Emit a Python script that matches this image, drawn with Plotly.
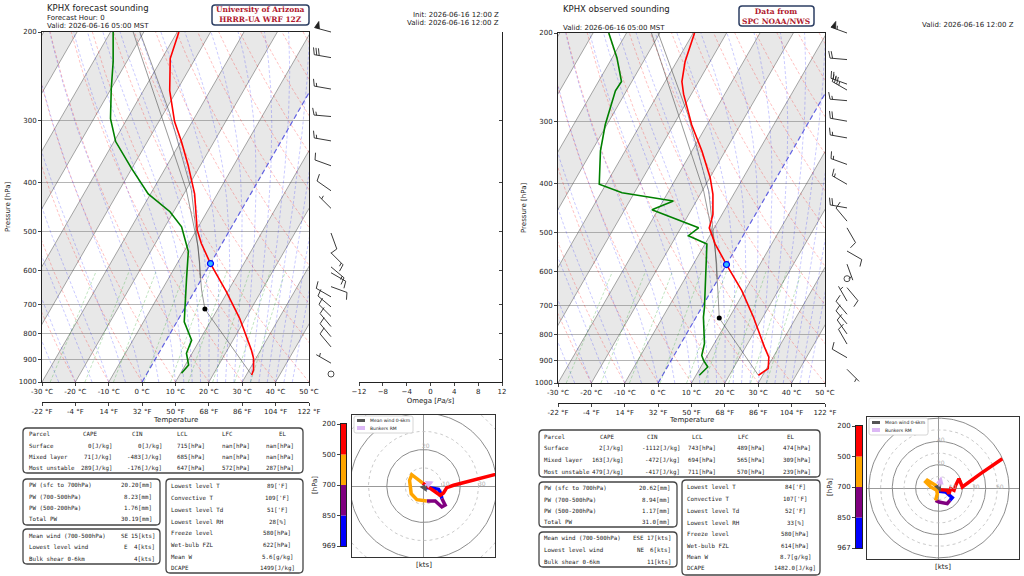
import numpy as np
import plotly.graph_objects as go

W, H = 1024, 576
SKEW = 37.6  # x shift (degC) per ln(1000/p), gives the skew of the isotherms

# ---------------- forecast sounding (left) ----------------
FC_T_P = [968, 946, 897, 863, 746, 660, 580, 529, 497, 457, 421, 369, 331, 302, 262, 226, 200]
FC_T = [31.6, 31.3, 29.3, 27.2, 18.2, 9.6, 0.0, -6.2, -9.8, -13.4, -16.8, -23.7, -29.8, -35.3, -42.1, -47.5, -49.5]
FC_TD_P = [961, 925, 876, 825, 758, 702, 621, 549, 490, 457, 421, 374, 331, 298, 260, 229, 200]
FC_TD = [10.3, 11.0, 8.3, 7.6, 2.2, -0.5, -4.6, -8.7, -15.0, -21.1, -30.7, -40.2, -49.5, -55.0, -59.9, -64.1, -69.2]
FC_PARCEL_P = [968, 715, 655, 537, 414, 300, 200]
FC_PARCEL_T = [31.6, 6.2, 1.9, -6.6, -19.9, -39.0, -63.2]
FC_PARCEL2_P = [620, 579, 414, 291, 200]
FC_PARCEL2_T = [-0.6, -3.3, -18.4, -38.1, -61.2]
FC_LCL = (715, 6.2)
FC_FRZ = (580, 0.0)

FC_BARB_P = [200, 225, 260, 295, 330, 370, 415, 450, 504, 552, 589, 605, 645, 676, 708, 740, 775, 812, 851, 917, 964]
FC_BARB_DIR = [285, 280, 280, 275, 280, 290, 305, 315, 160, 135, 130, 120, 110, 300, 310, 315, 320, 320, 320, 300, 0]
FC_BARB_SPD = [50, 30, 15, 15, 15, 10, 10, 5, 10, 15, 15, 10, 10, 10, 10, 10, 10, 10, 10, 5, 0]

FC_HODO_P = [969, 950, 920, 890, 850, 810, 780, 740, 700, 660, 620, 580, 550, 520, 500, 450, 400, 370, 340, 300, 260, 220, 200]
FC_HODO_U = [0.9, 3.6, 8.2, 9.5, 10.0, 11.8, 10.0, 6.4, 1.8, -3.6, -6.7, -7.6, -6.4, -3.6, -0.4, 4.5, 9.1, 10.9, 12.7, 16.4, 23.6, 32.7, 47.3]
FC_HODO_V = [-0.9, -0.9, -1.8, -4.2, -6.9, -10.5, -11.5, -8.2, -8.2, -7.5, -4.2, 3.1, 6.2, 4.0, 1.6, -2.0, -5.1, -3.8, -0.9, 0.4, 2.2, 4.0, 8.5]
FC_MEAN_WIND = (1.8, -3.3)
FC_BUNKERS = (5.5, 2.5)
FC_CB_LEVELS = ['969', '850', '700', '500', '200']

# ---------------- observed sounding (right) ----------------
OB_T_P = [965, 936, 888, 847, 739, 654, 580, 528, 490, 461, 420, 389, 344, 305, 265, 250, 228, 200]
OB_T = [28.7, 30.5, 28.7, 25.6, 17.2, 9.1, 0.0, -6.9, -11.5, -12.7, -16.2, -19.9, -27.0, -34.6, -42.3, -45.0, -47.5, -49.6]
OB_TD_P = [965, 929, 901, 881, 835, 739, 706, 615, 528, 508, 500, 490, 451, 433, 417, 401, 344, 305, 261, 250, 224, 200]
OB_TD = [11.0, 12.1, 9.7, 8.3, 7.1, 2.2, 0.8, -4.0, -9.4, -16.4, -15.5, -14.7, -31.8, -26.9, -43.7, -52.0, -57.4, -60.5, -63.3, -63.1, -68.6, -75.3]
OB_PARCEL_P = [965, 742, 655, 537, 414, 300, 200]
OB_PARCEL_T = [28.7, 7.1, 2.0, -6.3, -19.5, -38.5, -62.5]
OB_PARCEL2_P = [620, 579, 414, 291, 200]
OB_PARCEL2_T = [-0.3, -3.0, -18.0, -37.5, -60.5]
OB_LCL = (742, 7.1)
OB_FRZ = (580, 0.0)

OB_BARB_P = [200, 226, 253, 260, 273, 300, 324, 366, 401, 447, 475, 490, 545, 579, 619, 645, 686, 729, 762, 798, 836, 890, 939]
OB_BARB_DIR = [290, 275, 290, 300, 275, 280, 280, 290, 300, 280, 320, 150, 120, 160, 0, 140, 330, 320, 320, 325, 330, 300, 135]
OB_BARB_SPD = [55, 20, 25, 35, 15, 20, 15, 15, 15, 20, 10, 10, 10, 5, 0, 10, 5, 10, 10, 10, 10, 10, 5]

OB_HODO_P = [967, 930, 890, 850, 800, 750, 700, 670, 640, 610, 580, 550, 520, 500, 470, 440, 410, 380, 350, 320, 290, 250, 200]
OB_HODO_U = [0.0, 5.7, 11.4, 9.4, 7.1, 0.0, -2.9, -1.4, -2.0, -7.1, -11.4, -10.0, -2.9, 0.0, 7.1, 8.6, 10.0, 12.9, 14.3, 17.1, 20.0, 35.7, 54.3]
OB_HODO_V = [-2.9, -3.4, -8.3, -10.6, -13.4, -12.0, -10.6, -4.9, -2.0, 0.9, 5.1, 6.6, 2.3, -1.4, -2.0, -4.9, -0.6, -2.0, 2.3, 8.0, 0.9, 12.3, 25.1]
OB_MEAN_WIND = (1.4, -3.5)
OB_BUNKERS = (2.0, 10.0)
OB_CB_LEVELS = ['967', '850', '700', '500', '200']

# ---------------- table contents ----------------
PARCEL_NAMES = ['Surface', 'Mixed layer', 'Most unstable']
PARCEL_HEAD = ['CAPE', 'CIN', 'LCL', 'LFC', 'EL']
PW_NAMES = ['PW (sfc to 700hPa)', 'PW (700-500hPa)', 'PW (500-200hPa)', 'Total PW']
WIND_NAMES = ['Mean wind (700-500hPa)', 'Lowest level wind', 'Bulk shear 0-6km']
INDEX_NAMES = ['Lowest level T', 'Convective T', 'Lowest level Td', 'Lowest level RH',
               'Freeze level', 'Wet-bulb FZL', 'Mean W', 'DCAPE']

FC_CAPE = [0, 71, 289]
FC_CIN = [0, -483, -176]
FC_LCLS = [715, 685, 647]
FC_LFC = ['nan', 'nan', 572]
FC_EL = ['nan', 'nan', 287]
FC_PW = ['20.20', '8.23', '1.76', '30.19']
FC_WIND_DIR = ['SE', 'E', '']
FC_WIND_SPD = [15, 4, 4]
FC_INDEX = ["89['F]", "109['F]", "51['F]", "28[%]", "580[hPa]", "622[hPa]", "5.6[g/kg]", "1499[J/kg]"]

OB_CAPE = [2, 163, 479]
OB_CIN = [-1112, -472, -417]
OB_LCLS = [743, 694, 711]
OB_LFC = [489, 565, 570]
OB_EL = [474, 309, 239]
OB_PW = ['20.62', '8.94', '1.17', '31.0']
OB_WIND_DIR = ['ESE', 'NE', '']
OB_WIND_SPD = [17, 6, 11]
OB_INDEX = ["84['F]", "107['F]", "52['F]", "33[%]", "580[hPa]", "614[hPa]", "8.7[g/kg]", "1482.0[J/kg]"]

# ---------------- chart furniture ----------------
T_TICKS = list(range(-30, 51, 10))
P_TICKS = [1000, 900, 800, 700, 600, 500, 400, 300, 200]
ISOTHERMS = list(range(-110, 51, 10))
BAND_STARTS = list(range(-110, 31, 20))
DRY_T0 = list(range(-40, 201, 10))
MOIST_T0 = list(range(-50, 11, 5)) + list(np.arange(12.5, 45.1, 2.5))
MIX_RATIOS = [0.0004, 0.001, 0.002, 0.004, 0.007, 0.01, 0.016, 0.024, 0.032]
RINGS = [10, 20, 30, 40, 50, 60]
OMEGA_TICKS = [-12, -8, -4, 0, 4, 8, 12]
HODO_COLORS = ['blue', 'purple', 'orange', 'red']

P_BG = np.geomspace(1000, 200, 90)
P_MIX = np.linspace(1000, 600, 20)
FONT = 'DejaVu Sans'
MONO = 'DejaVu Sans Mono'


def X(px):
    return px / W


def Y(py):
    return 1 - py / H


def skew_x(t, p):
    return np.asarray(t, float) + SKEW * np.log(1000.0 / np.asarray(p, float))


def moist_adiabat(t0):
    Rd, Cp, Lv, eps = 287.04, 1005.7, 2.501e6, 0.622

    def grad(T, p):
        tc = T - 273.15
        es = 6.112 * np.exp(17.67 * tc / (tc + 243.5))
        rs = eps * es / (p - es)
        return (Rd * T + Lv * rs) / (Cp + Lv * Lv * rs * eps / (Rd * T * T)) / p

    T = t0 + 273.15
    out = [T]
    for p0, p1 in zip(P_BG[:-1], P_BG[1:]):
        k1 = grad(T, p0)
        k2 = grad(T + k1 * (p1 - p0), p1)
        T = T + 0.5 * (k1 + k2) * (p1 - p0)
        out.append(T)
    return np.array(out) - 273.15


def joined(curves):
    xs, ys = [], []
    for x, y in curves:
        xs += list(x) + [None]
        ys += list(y) + [None]
    return xs, ys


fig = go.Figure()


def lines(x, y, xa, ya, color, width=1.0, dash='solid', **kw):
    fig.add_trace(go.Scatter(x=x, y=y, xaxis=xa, yaxis=ya, mode='lines',
                             line=dict(color=color, width=width, dash=dash),
                             hoverinfo='skip', showlegend=False, **kw))


def add_background(xa, ya):
    bx, by = [], []
    for t0 in BAND_STARTS:
        bx += list(skew_x([t0, t0 + 10, t0 + 10, t0], [1000, 1000, 200, 200])) + [None]
        by += [1000, 1000, 200, 200, None]
    lines(bx, by, xa, ya, 'rgba(0,0,0,0)', 0, fill='toself', fillcolor='rgba(140,140,140,0.2)')
    iso = [(skew_x([t, t], [1000, 200]), [1000, 200]) for t in ISOTHERMS if t != 0]
    lines(*joined(iso), xa, ya, 'rgba(80,80,80,0.55)', 0.9)
    dry = [(skew_x((th + 273.15) * (P_BG / 1000) ** 0.2857 - 273.15, P_BG), P_BG) for th in DRY_T0]
    lines(*joined(dry), xa, ya, 'rgba(255,0,0,0.35)', 0.7, '3px,2px')
    moist = [(skew_x(moist_adiabat(t0), P_BG), P_BG) for t0 in MOIST_T0]
    lines(*joined(moist), xa, ya, 'rgba(0,0,255,0.3)', 0.7, '3px,2px')
    mix = []
    for w in MIX_RATIOS:
        e = P_MIX * w / (0.622 + w)
        a = np.log(e / 6.112)
        mix.append((skew_x(243.5 * a / (17.67 - a), P_MIX), P_MIX))
    lines(*joined(mix), xa, ya, 'rgba(0,150,0,0.35)', 0.7, '3px,2px')
    lines(skew_x([0, 0], [1000, 200]), [1000, 200], xa, ya, 'rgba(50,50,220,0.75)', 1.2, '5px,3px')


def add_profiles(xa, ya, tp, t, tdp, td, pp, pt, pp2, pt2, lcl, frz):
    lines(skew_x(pt, pp), pp, xa, ya, 'rgba(70,70,70,0.7)', 0.8)
    lines(skew_x(pt2, pp2), pp2, xa, ya, 'rgba(70,70,70,0.7)', 0.8)
    lines(skew_x(t, tp), tp, xa, ya, 'red', 1.6)
    lines(skew_x(td, tdp), tdp, xa, ya, 'green', 1.6)
    fig.add_trace(go.Scatter(x=skew_x([lcl[1]], [lcl[0]]), y=[lcl[0]], xaxis=xa, yaxis=ya, mode='markers',
                             marker=dict(color='black', size=5), hoverinfo='skip', showlegend=False))
    fig.add_trace(go.Scatter(x=skew_x([frz[1]], [frz[0]]), y=[frz[0]], xaxis=xa, yaxis=ya, mode='markers',
                             marker=dict(color='#33bbff', size=6, line=dict(color='blue', width=1.2)),
                             hoverinfo='skip', showlegend=False))


def barb_y(p):
    return 350 * np.log(1000.0 / p) / np.log(5)


def add_barbs(xa, ya, plist, dlist, slist, x0=21.0, length=17.0, feather=7.0, gap=2.5):
    lx, ly, fx, fy, cx, cy = [], [], [], [], [], []
    for p, d, s in zip(plist, dlist, slist):
        y0 = barb_y(p)
        if s < 2.5:
            cx.append(x0)
            cy.append(y0)
            continue
        a = np.radians(d)
        ux, uy = np.sin(a), np.cos(a)
        nx, ny = uy, -ux
        lx += [x0, x0 + ux * length, None]
        ly += [y0, y0 + uy * length, None]
        s5 = int(5 * round(s / 5))
        n50, r = divmod(s5, 50)
        n10, r = divmod(r, 10)
        n5 = r // 5
        pos = length
        for _ in range(n50):
            fx += [x0 + ux * pos, x0 + ux * (pos - gap) + nx * feather, x0 + ux * (pos - 2 * gap), None]
            fy += [y0 + uy * pos, y0 + uy * (pos - gap) + ny * feather, y0 + uy * (pos - 2 * gap), None]
            pos -= 2.6 * gap
        for _ in range(n10):
            bx, by = x0 + ux * pos, y0 + uy * pos
            lx += [bx, bx + nx * feather + ux * gap * 0.8, None]
            ly += [by, by + ny * feather + uy * gap * 0.8, None]
            pos -= gap
        if n5:
            if n50 + n10 == 0:
                pos -= 1.5 * gap
            bx, by = x0 + ux * pos, y0 + uy * pos
            lx += [bx, bx + 0.5 * (nx * feather + ux * gap * 0.8), None]
            ly += [by, by + 0.5 * (ny * feather + uy * gap * 0.8), None]
    lines(lx, ly, xa, ya, '#222', 0.9)
    if fx:
        lines(fx, fy, xa, ya, '#222', 0.8, fill='toself', fillcolor='#222')
    if cx:
        fig.add_trace(go.Scatter(x=cx, y=cy, xaxis=xa, yaxis=ya, mode='markers', hoverinfo='skip', showlegend=False,
                                 marker=dict(symbol='circle-open', size=6, color='#222', line=dict(width=0.8))))


def add_hodograph(xa, ya, hp, hu, hv):
    th = np.linspace(0, 2 * np.pi, 181)
    for r in RINGS:
        solid = r % 20 == 0
        lines(r * np.cos(th), r * np.sin(th), xa, ya, '#8c8c8c' if solid else '#bdbdbd',
              1.0 if solid else 0.8, 'solid' if solid else 'dot')
    hp, hu, hv = np.array(hp), np.array(hu), np.array(hv)
    bands = [(850, 2000), (700, 850), (500, 700), (0, 500)]
    for (lo, hi), c in zip(bands, HODO_COLORS):
        m = (hp >= lo) & (hp <= hi)
        lines(hu[m], hv[m], xa, ya, c, 3.5)


def rbox(x0, y0, x1, y1, r=4, color='#444', width=1.3, fill='white'):
    path = (f"M {X(x0 + r)},{Y(y0)} L {X(x1 - r)},{Y(y0)} Q {X(x1)},{Y(y0)} {X(x1)},{Y(y0 + r)} "
            f"L {X(x1)},{Y(y1 - r)} Q {X(x1)},{Y(y1)} {X(x1 - r)},{Y(y1)} L {X(x0 + r)},{Y(y1)} "
            f"Q {X(x0)},{Y(y1)} {X(x0)},{Y(y1 - r)} L {X(x0)},{Y(y0 + r)} Q {X(x0)},{Y(y0)} {X(x0 + r)},{Y(y0)} Z")
    return dict(type='path', xref='paper', yref='paper', path=path,
                line=dict(color=color, width=width), fillcolor=fill)


def txt(x, y, s, size=7, anchor='left', family=FONT, color='#222', **kw):
    return dict(x=X(x), y=Y(y), xref='paper', yref='paper', text=s, showarrow=False,
                xanchor=anchor, yanchor='middle', font=dict(family=family, size=size, color=color), **kw)


annotations, shapes = [], []


def add_tables(pos, cape, cin, lcl, lfc, el, pw, wdir, wspd, idx):
    m = dict(family=MONO, size=5.8)
    shapes.append(rbox(*pos['box1']))
    shapes.append(rbox(*pos['pwbox']))
    shapes.append(rbox(*pos['wbox']))
    shapes.append(rbox(*pos['ibox']))
    r1 = pos['rows1']
    annotations.append(txt(pos['lab'], r1[0], 'Parcel', **m))
    for c, h in zip(pos['head'], PARCEL_HEAD):
        annotations.append(txt(c, r1[0], h, anchor='center', **m))
    for i, name in enumerate(PARCEL_NAMES):
        annotations.append(txt(pos['lab'], r1[i + 1], name, **m))
        vals = [f'{cape[i]}[J/kg]', f'{cin[i]}[J/kg]', f'{lcl[i]}[hPa]', f'{lfc[i]}[hPa]', f'{el[i]}[hPa]']
        for xr, v in zip(pos['valr'], vals):
            annotations.append(txt(xr, r1[i + 1], v, anchor='right', **m))
    for y, name, v in zip(pos['pwrows'], PW_NAMES, pw):
        annotations.append(txt(pos['lab'], y, name, **m))
        annotations.append(txt(pos['pwr'], y, f'{v}[mm]', anchor='right', **m))
    for y, name, d, s in zip(pos['wrows'], WIND_NAMES, wdir, wspd):
        annotations.append(txt(pos['lab'], y, name, **m))
        if d:
            annotations.append(txt(pos['wdirr'], y, d, anchor='right', **m))
        annotations.append(txt(pos['wspdr'], y, f'{s}[kts]', anchor='right', **m))
    for y, name, v in zip(pos['irows'], INDEX_NAMES, idx):
        annotations.append(txt(pos['ilab'], y, name, **m))
        annotations.append(txt(pos['ic'], y, v, anchor='center', **m))


# ---------------- build the two panels ----------------
PANELS = [
    dict(sx='x', sy='y', fx='x2', bx='x3', by='y3', hx='x5', hy='y5', cx='x6', cy='y6',
         skew=(42, 309, 32, 382), fpos=402, barb=(310, 356), hodo=(352, 495, 415, 557),
         hlim=([-39, 39], [-39, 39]), cbar=(341, 346, 424, 546),
         data=(FC_T_P, FC_T, FC_TD_P, FC_TD, FC_PARCEL_P, FC_PARCEL_T, FC_PARCEL2_P, FC_PARCEL2_T, FC_LCL, FC_FRZ),
         barbs=(FC_BARB_P, FC_BARB_DIR, FC_BARB_SPD), hododata=(FC_HODO_P, FC_HODO_U, FC_HODO_V),
         mean=FC_MEAN_WIND, bunk=FC_BUNKERS, cb=FC_CB_LEVELS),
    dict(sx='x7', sy='y7', fx='x8', bx='x9', by='y9', hx='x10', hy='y10', cx='x11', cy='y11',
         skew=(558, 825, 33, 383), fpos=403, barb=(826, 872), hodo=(867, 1019, 417, 559),
         hlim=([-61.7, 68.6], [-61, 61]), cbar=(856, 862, 426, 548),
         data=(OB_T_P, OB_T, OB_TD_P, OB_TD, OB_PARCEL_P, OB_PARCEL_T, OB_PARCEL2_P, OB_PARCEL2_T, OB_LCL, OB_FRZ),
         barbs=(OB_BARB_P, OB_BARB_DIR, OB_BARB_SPD), hododata=(OB_HODO_P, OB_HODO_U, OB_HODO_V),
         mean=OB_MEAN_WIND, bunk=OB_BUNKERS, cb=OB_CB_LEVELS),
]


def akey(a):
    return ('xaxis' if a[0] == 'x' else 'yaxis') + a[1:]


tickfont = dict(family=FONT, size=7, color='#222')
layout_axes = {}
plain = dict(showgrid=False, zeroline=False, showticklabels=False, ticks='')

for P in PANELS:
    x0, x1, y0, y1 = P['skew']
    dom_x, dom_y = [X(x0), X(x1)], [Y(y1), Y(y0)]
    add_background(P['sx'], P['sy'])
    add_profiles(P['sx'], P['sy'], *P['data'])
    # invisible marker so the deg F axis is drawn
    fig.add_trace(go.Scatter(x=[0], y=[500], xaxis=P['fx'], yaxis=P['sy'], mode='markers',
                             marker=dict(opacity=0), hoverinfo='skip', showlegend=False))
    layout_axes[akey(P['sx'])] = dict(domain=dom_x, range=[-30, 50], anchor=P['sy'], tickvals=T_TICKS,
                                      ticktext=[f'{t} °C' for t in T_TICKS], ticks='outside', ticklen=3,
                                      showline=True, mirror=True, linecolor='#222', linewidth=1,
                                      showgrid=False, zeroline=False, tickfont=tickfont)
    layout_axes[akey(P['fx'])] = dict(overlaying=P['sx'], anchor='free', position=Y(P['fpos']), side='bottom',
                                      range=[-30, 50], tickvals=T_TICKS,
                                      ticktext=[f'{round(t * 1.8 + 32)} °F' for t in T_TICKS],
                                      ticks='outside', ticklen=3, showline=True, linecolor='#222',
                                      showgrid=False, zeroline=False, tickfont=tickfont)
    layout_axes[akey(P['sy'])] = dict(domain=dom_y, type='log', range=[3, np.log10(200)], anchor=P['sx'],
                                      tickvals=P_TICKS, ticktext=[str(p) for p in P_TICKS], ticks='outside',
                                      ticklen=3, showline=True, mirror=True, linecolor='#222', linewidth=1,
                                      showgrid=True, gridcolor='rgba(120,120,120,0.55)', gridwidth=1.2,
                                      zeroline=False, tickfont=tickfont)
    # wind barbs, drawn in pixel-sized units
    b0, b1 = P['barb']
    add_barbs(P['bx'], P['by'], *P['barbs'])
    layout_axes[akey(P['bx'])] = dict(domain=[X(b0), X(b1)], range=[0, b1 - b0], anchor=P['by'], **plain)
    layout_axes[akey(P['by'])] = dict(domain=[Y(y1 + 20), Y(y0 - 20)], range=[-20, 370], anchor=P['bx'], **plain)
    # hodograph
    hx0, hx1, hy0, hy1 = P['hodo']
    add_hodograph(P['hx'], P['hy'], *P['hododata'])
    box = dict(showline=True, mirror=True, linecolor='#333', linewidth=1.2, showgrid=False,
               zeroline=True, zerolinecolor='#999', zerolinewidth=1, showticklabels=False, ticks='')
    layout_axes[akey(P['hx'])] = dict(domain=[X(hx0), X(hx1)], range=P['hlim'][0], anchor=P['hy'], **box)
    layout_axes[akey(P['hy'])] = dict(domain=[Y(hy1), Y(hy0)], range=P['hlim'][1], anchor=P['hx'], **box)
    for r in RINGS:
        lab = dict(xref=P['hx'], yref=P['hy'], text=str(r), showarrow=False,
                   font=dict(family=FONT, size=6, color='#b0b0b0'))
        if r % 20:
            if r + 2 < P['hlim'][0][1]:
                annotations.append(dict(x=r + 2, y=1.5, xanchor='center', **lab))
        elif r + 2 < P['hlim'][1][1]:
            annotations.append(dict(x=1.5, y=r + 2, xanchor='center', **lab))
    for vec, col in [(P['mean'], '#555555'), (P['bunk'], '#d9b3f5')]:
        annotations.append(dict(x=vec[0], y=vec[1], ax=0, ay=0, xref=P['hx'], yref=P['hy'],
                                axref=P['hx'], ayref=P['hy'], showarrow=True, arrowhead=2,
                                arrowsize=0.7, arrowwidth=2.2, arrowcolor=col, text=''))
    lx, ly = hx0 + 2, hy0 + 1
    shapes.append(rbox(lx, ly, lx + 59, ly + 17, r=2, color='#cccccc', width=0.8))
    shapes.append(dict(type='rect', xref='paper', yref='paper', x0=X(lx + 3), x1=X(lx + 11),
                       y0=Y(ly + 6), y1=Y(ly + 3), fillcolor='#555555', line=dict(width=0)))
    shapes.append(dict(type='rect', xref='paper', yref='paper', x0=X(lx + 3), x1=X(lx + 11),
                       y0=Y(ly + 14), y1=Y(ly + 10), fillcolor='#dcb8f5', line=dict(width=0)))
    annotations.append(txt(lx + 14, ly + 4.5, 'Mean wind 0-6km', size=4.5))
    annotations.append(txt(lx + 14, ly + 12, 'Bunkers RM', size=4.5))
    annotations.append(txt((hx0 + hx1) / 2, hy1 + 8, '[kts]', size=7, anchor='center'))
    # colour bar for the hodograph layers
    c0, c1, cy0, cy1 = P['cbar']
    for i, c in enumerate(HODO_COLORS):
        fig.add_trace(go.Bar(x=[0], y=[1], base=[i], width=1, marker=dict(color=c, line=dict(width=0)),
                             xaxis=P['cx'], yaxis=P['cy'], hoverinfo='skip', showlegend=False))
    layout_axes[akey(P['cx'])] = dict(domain=[X(c0), X(c1)], range=[-0.5, 0.5], anchor=P['cy'],
                                      showline=True, mirror=True, linecolor='#222', linewidth=1, **plain)
    layout_axes[akey(P['cy'])] = dict(domain=[Y(cy1), Y(cy0)], range=[0, 4], anchor=P['cx'],
                                      tickvals=[0, 1, 2, 3, 4], ticktext=P['cb'], ticks='outside', ticklen=3,
                                      showline=True, mirror=True, linecolor='#222', linewidth=1,
                                      showgrid=False, zeroline=False, tickfont=tickfont)
    annotations.append(txt(c0 - 26, (cy0 + cy1) / 2, '[hPa]', size=7, anchor='center', textangle=-90))
    annotations.append(txt((x0 + x1) / 2, 420, 'Temperature', size=7, anchor='center'))
    annotations.append(txt(x0 - 34, (y0 + y1) / 2, 'Pressure [hPa]', size=7, anchor='center', textangle=-90))

# omega axes (forecast panel only)
fig.add_trace(go.Scatter(x=[0], y=[500], xaxis='x4', yaxis='y4', mode='markers',
                         marker=dict(opacity=0), hoverinfo='skip', showlegend=False))
layout_axes['xaxis4'] = dict(domain=[X(359), X(502)], range=[-12, 12], anchor='y4', tickvals=OMEGA_TICKS,
                             ticktext=[str(t).replace('-', '−') for t in OMEGA_TICKS], ticks='outside',
                             ticklen=3, showline=True, linecolor='#222', showgrid=False, zeroline=False,
                             tickfont=tickfont, title=dict(text='Omega [<i>Pa/s</i>]', standoff=2,
                                                           font=dict(family=FONT, size=7)))
layout_axes['yaxis4'] = dict(domain=[Y(382), Y(32)], type='log', range=[3, np.log10(200)], anchor='x4',
                             side='right', tickvals=P_TICKS, showticklabels=False, ticks='inside', ticklen=3,
                             showline=True, linecolor='#222', showgrid=False, zeroline=False)

# keep every subplot exactly where it was placed
for k in layout_axes:
    layout_axes[k]['automargin'] = False

# tables
add_tables(dict(box1=(23, 428, 303, 473), rows1=[434, 446, 457, 468], lab=27, head=[90, 137, 182, 227, 282],
                valr=[114, 164, 207, 252, 296], pwbox=(23, 479, 160, 525), pwrows=[485, 497, 508, 519], pwr=154,
                wbox=(23, 529, 160, 564), wrows=[536, 547, 559], wdirr=130, wspdr=157,
                ibox=(166, 479, 303, 573), irows=[486, 498, 510, 522, 533, 545, 557, 568], ilab=169, ic=277),
           FC_CAPE, FC_CIN, FC_LCLS, FC_LFC, FC_EL, FC_PW, FC_WIND_DIR, FC_WIND_SPD, FC_INDEX)
add_tables(dict(box1=(539, 430, 820, 477), rows1=[437, 448, 460, 472], lab=542, head=[607, 652, 697, 743, 790],
                valr=[625, 682, 718, 767, 813], pwbox=(539, 482, 677, 527), pwrows=[488, 500, 511, 522], pwr=672,
                wbox=(539, 532, 677, 567), wrows=[538, 550, 562], wdirr=646, wspdr=673,
                ibox=(682, 480, 820, 575), irows=[487, 499, 511, 523, 534, 546, 557, 568], ilab=685, ic=795),
           OB_CAPE, OB_CIN, OB_LCLS, OB_LFC, OB_EL, OB_PW, OB_WIND_DIR, OB_WIND_SPD, OB_INDEX)

# headers
serif = dict(family='DejaVu Serif', size=7.5, color='#b0182e')
annotations += [
    txt(45, 8, 'KPHX forecast sounding', size=8.5),
    txt(45, 18, 'Forecast Hour: 0', size=7),
    txt(45, 26, 'Valid: 2026-06-16 05:00 MST', size=7),
    txt(260, 15, '<b>University of Arizona</b><br><b>HRRR-UA WRF 12Z</b>', anchor='center', **serif),
    txt(501, 15, 'Init: 2026-06-16 12:00 Z', size=7, anchor='right'),
    txt(501, 23, 'Valid: 2026-06-16 12:00 Z', size=7, anchor='right'),
    txt(561, 9, 'KPHX observed sounding', size=8.5),
    txt(561, 28, 'Valid: 2026-06-16 05:00 MST', size=7),
    txt(776, 16, '<b>Data from</b><br><b>SPC NOAA/NWS</b>', anchor='center', **serif),
    txt(1016, 25, 'Valid: 2026-06-16 12:00 Z', size=7, anchor='right'),
]
shapes.append(rbox(212, 5, 309, 25, r=3, color='#2c3e63', width=1.5, fill='rgba(0,0,0,0)'))
shapes.append(rbox(739, 6, 814, 26, r=3, color='#2c3e63', width=1.5, fill='rgba(0,0,0,0)'))

fig.update_layout(width=W, height=H, margin=dict(l=0, r=0, t=0, b=0, autoexpand=False),
                  paper_bgcolor='white', plot_bgcolor='white', showlegend=False, barmode='overlay',
                  font=dict(family=FONT, size=7, color='#222'),
                  annotations=annotations, shapes=shapes, **layout_axes)

# the page body has a default 8px margin; drop it so the figure fills the window exactly
fig.write_html("out.html", config={'displayModeBar': False},
               post_script="document.body.style.margin='0';document.body.style.overflow='hidden';")
